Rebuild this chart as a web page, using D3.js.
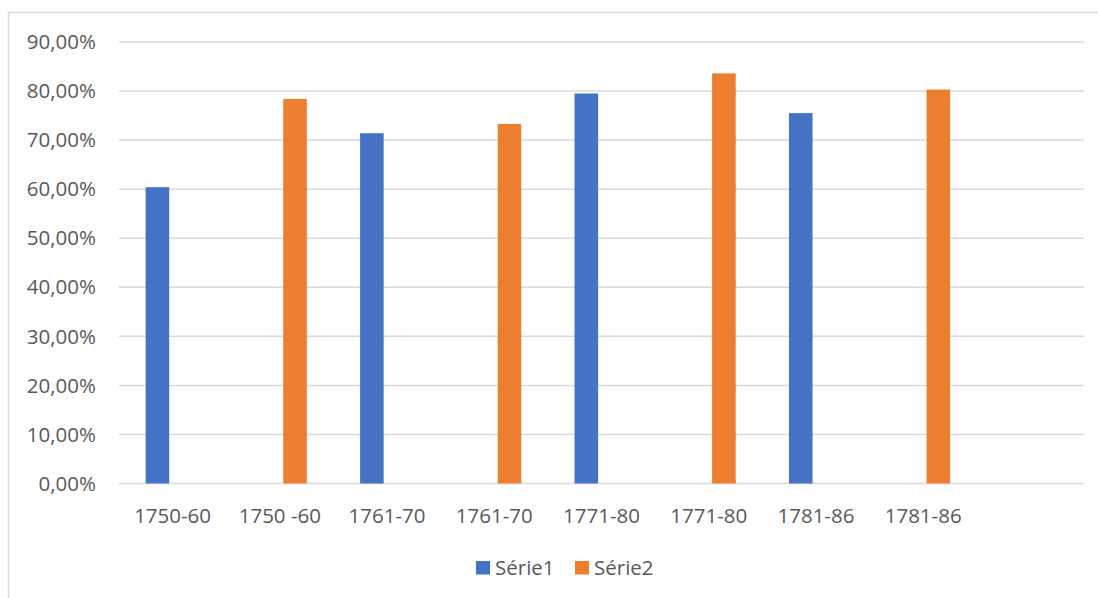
<!DOCTYPE html>
<html>
<head>
<meta charset="utf-8">
<script src="https://cdn.jsdelivr.net/npm/d3@7"></script>
<style>
  body { margin: 0; background: #fff; }
  text { font-family: "Open Sans", "Noto Sans", sans-serif; fill: #595959; }
</style>
</head>
<body>
<svg id="chart" width="1098" height="598"></svg>
<script>
// Categories (the last slot is empty, as in the original)
const categories = ['1750-60', '1750 -60', '1761-70', '1761-70', '1771-80', '1771-80', '1781-86', '1781-86', ''];
const seriesNames = ['Série1', 'Série2'];
// values per category, null = no bar
const serie1 = [0.604, null, 0.714, null, 0.795, null, 0.755, null, null];
const serie2 = [null, 0.784, null, 0.733, null, 0.836, null, 0.803, null];
const yTicks = [0, 0.1, 0.2, 0.3, 0.4, 0.5, 0.6, 0.7, 0.8, 0.9];
const colors = ['#4472C4', '#ED7D31'];

const width = 1098, height = 598;
const margin = {left: 119, right: 1098 - 1084, top: 42, bottom: 598 - 483.5};

const svg = d3.select('#chart');

// outer chart border (only left and top are visible in the picture)
svg.append('rect')
  .attr('x', 8.5).attr('y', 12.5)
  .attr('width', 1200).attr('height', 700)
  .attr('fill', 'none')
  .attr('stroke', '#D9D9D9')
  .attr('stroke-width', 1.5);

const x0 = d3.scaleBand()
  .domain(d3.range(categories.length))
  .range([margin.left, width - margin.right])
  .padding(0);

// two slots per category, spaced a bit apart
const x1 = d3.scaleBand()
  .domain(seriesNames)
  .range([0, x0.bandwidth()])
  .paddingInner(0.224)
  .paddingOuter(0.877);

const y = d3.scaleLinear()
  .domain([0, 0.9])
  .range([height - margin.bottom, margin.top]);

const fmt = v => d3.format('.2f')(v * 100).replace('.', ',') + '%';

// gridlines
svg.append('g')
  .selectAll('line')
  .data(yTicks)
  .enter()
  .append('line')
  .attr('x1', margin.left)
  .attr('x2', width - margin.right)
  .attr('y1', d => y(d))
  .attr('y2', d => y(d))
  .attr('stroke', '#D9D9D9')
  .attr('stroke-width', 1.5);

// y labels
svg.append('g')
  .selectAll('text')
  .data(yTicks)
  .enter()
  .append('text')
  .attr('x', 96)
  .attr('y', d => y(d))
  .attr('dy', '0.35em')
  .attr('text-anchor', 'end')
  .style('font-size', '20.5px')
  .text(fmt);

// bars
const seriesData = [serie1, serie2];
seriesData.forEach((vals, si) => {
  svg.append('g')
    .selectAll('rect')
    .data(vals.map((v, i) => ({i: i, v: v})).filter(d => d.v !== null))
    .enter()
    .append('rect')
    .attr('x', d => x0(d.i) + x1(seriesNames[si]))
    .attr('width', x1.bandwidth())
    .attr('y', d => y(d.v))
    .attr('height', d => y(0) - y(d.v))
    .attr('fill', colors[si]);
});

// x labels
svg.append('g')
  .selectAll('text')
  .data(categories)
  .enter()
  .append('text')
  .attr('x', (d, i) => x0(i) + x0.bandwidth() / 2)
  .attr('y', 523)
  .attr('text-anchor', 'middle')
  .style('font-size', '20.5px')
  .text(d => d);

// legend
const legendX = [476, 575];
const legend = svg.append('g')
  .selectAll('g')
  .data(seriesNames)
  .enter()
  .append('g')
  .attr('transform', (d, i) => `translate(${legendX[i]},561)`);

legend.append('rect')
  .attr('width', 14).attr('height', 13.5)
  .attr('fill', (d, i) => colors[i]);

legend.append('text')
  .attr('x', 19)
  .attr('y', 7)
  .attr('dy', '0.35em')
  .style('font-size', '20.5px')
  .text(d => d);
</script>
</body>
</html>
